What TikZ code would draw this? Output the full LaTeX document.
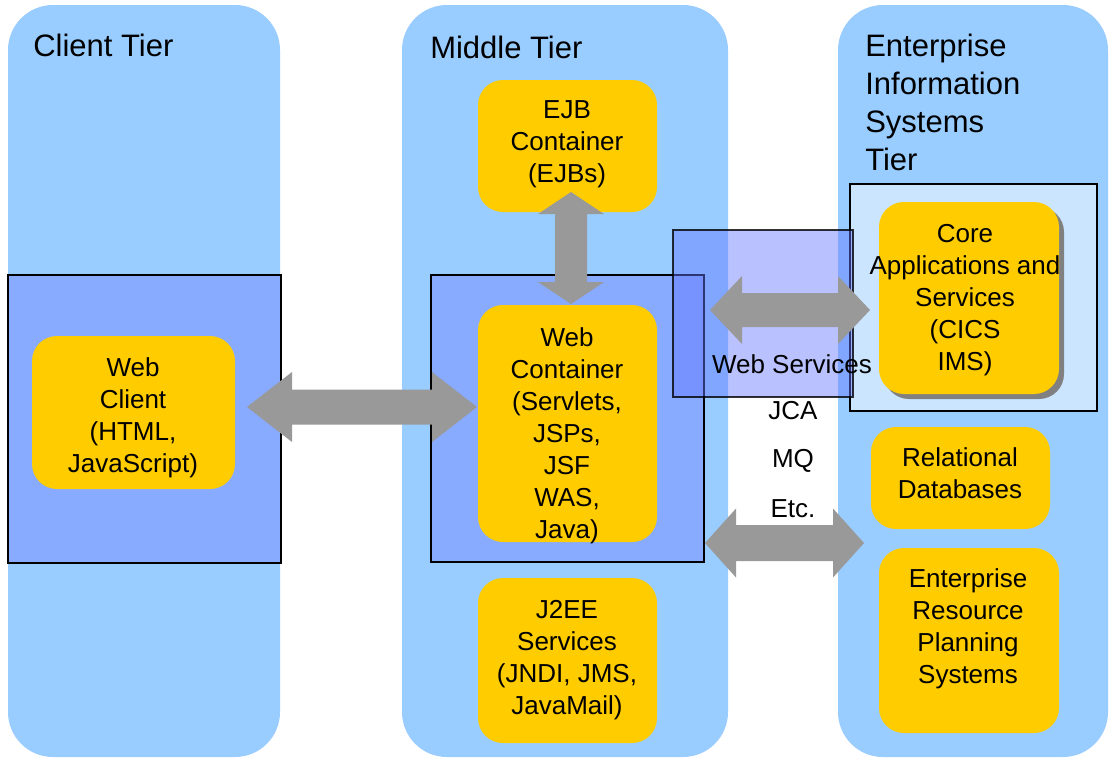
\documentclass[tikz,border=0pt]{standalone}
\usepackage{fontspec}
\setmainfont{Liberation Sans}
\usetikzlibrary{calc,fit}
\definecolor{panelblue}{RGB}{153,204,255}
\definecolor{boxblue}{RGB}{136,170,255}
\definecolor{coreblue}{RGB}{204,229,255}
\definecolor{yel}{RGB}{255,204,0}
\definecolor{arrgray}{RGB}{153,153,153}
\definecolor{wsblue}{RGB}{100,120,255}
\definecolor{shadowgray}{RGB}{128,128,128}
\newcommand\hdarrow[5]{%
  \fill[arrowfill] (#1) -- ($(#1)+(#3,-#4)$) -- ($(#1)+(#3,-#5)$) -- ($(#2)+(-#3,-#5)$) -- ($(#2)+(-#3,-#4)$) -- (#2)
    -- ($(#2)+(-#3,#4)$) -- ($(#2)+(-#3,#5)$) -- ($(#1)+(#3,#5)$) -- ($(#1)+(#3,#4)$) -- cycle;}
\newcommand\vdarrow[5]{%
  \fill[arrowfill] (#1) -- ($(#1)+(#4,#3)$) -- ($(#1)+(#5,#3)$) -- ($(#2)+(#5,-#3)$) -- ($(#2)+(#4,-#3)$) -- (#2)
    -- ($(#2)+(-#4,-#3)$) -- ($(#2)+(-#5,-#3)$) -- ($(#1)+(-#5,#3)$) -- ($(#1)+(-#4,#3)$) -- cycle;}
\tikzset{
  panel/.style={fill=panelblue, draw=none, rounded corners=33.75pt, inner sep=0pt},
  bluebox/.style={fill=boxblue, draw=black, line width=1.5pt, inner sep=0pt},
  corebox/.style={fill=coreblue, draw=black, line width=1.5pt, inner sep=0pt},
  wsbox/.style={fill=wsblue, fill opacity=0.45, draw=black, draw opacity=0.8, line width=1.5pt, inner sep=0pt},
  ybox/.style={fill=yel, draw=none, rounded corners=18.75pt, inner sep=0pt},
  arrowfill/.style={fill=arrgray},
  lbl/.style={font=\fontsize{19.5pt}{24pt}\selectfont, align=center, inner sep=0pt},
  title/.style={font=\fontsize{23.25pt}{28.5pt}\selectfont, align=left, inner sep=0pt, anchor=west},
}
\begin{document}
\begin{tikzpicture}[x=0.75pt,y=-0.75pt]
\useasboundingbox (0,0) rectangle (1109,758);
\fill[white] (0,0) rectangle (1109,758);
% tiers
\node[panel, fit={(8,5)(280,757)}] (clienttier) {};
\node[panel, fit={(402,5)(728,757)}] (middletier) {};
\node[panel, fit={(838,5)(1108,757)}] (eistier) {};
% blue boxes
\node[bluebox, fit={(8,275)(281,563)}] (clientbox) {};
\node[bluebox, fit={(431,275)(704,562)}] (midbox) {};
\node[corebox, fit={(850,184)(1097,411)}] (corebox) {};
% yellow boxes
\node[ybox, fit={(32,336)(235,489)}] (webclient) {};
\node[ybox, fit={(478,80)(657,212)}] (ejb) {};
\node[ybox, fit={(478,305)(657,542)}] (webcont) {};
\node[ybox, fit={(478,578)(657,743)}] (j2ee) {};
\node[ybox, fill=shadowgray, fit={(884,207)(1064,399)}] (coreshadow) {};
\node[ybox, fit={(879,202)(1059,394)}] (core) {};
\node[ybox, fit={(871,427)(1050,529)}] (reldb) {};
\node[ybox, fit={(879,548)(1059,733)}] (erp) {};
% web services box
\node[wsbox, fit={(673,230)(853,397)}] (wsbox) {};
% arrows
\coordinate (a1l) at (247,407); \coordinate (a1r) at (477,407);
\hdarrow{a1l}{a1r}{45}{35}{17.5}
\coordinate (a2t) at (571,192); \coordinate (a2b) at (571,304);
\vdarrow{a2t}{a2b}{22}{33}{16}
\coordinate (a3l) at (710,310); \coordinate (a3r) at (870,310);
\hdarrow{a3l}{a3r}{32}{34}{17}
\coordinate (a4l) at (705,543); \coordinate (a4r) at (864,543);
\hdarrow{a4l}{a4r}{31}{34.5}{18}
% titles
\node[title] (t1) at (33,45) {Client Tier};
\node[title] (t2) at (430,47) {Middle Tier};
\node[title] (t3) at (865,102) {Enterprise\\Information\\Systems\\Tier};
% labels
\node[lbl] (l1) at (133,418) {Web\\Client\\(HTML,\\JavaScript)};
\node[lbl] (l2) at (567,144) {EJB\\Container\\(EJBs)};
\node[lbl] (l3) at (567,436) {Web\\Container\\(Servlets,\\JSPs,\\JSF\\WAS,\\Java)};
\node[lbl] (l4) at (567,660) {J2EE\\Services\\(JNDI, JMS,\\JavaMail)};
\node[lbl] (l5) at (965,300) {Core\\Applications and\\Services\\(CICS\\IMS)};
\node[lbl] (l6) at (960,473) {Relational\\Databases};
\node[lbl] (l7) at (968,629) {Enterprise\\Resource\\Planning\\Systems};
\node[lbl] (ws) at (792,364) {Web Services};
\node[lbl] (jca) at (793,411) {JCA};
\node[lbl] (mq) at (793,461) {MQ};
\node[lbl] (etc) at (793,509) {Etc.};
\end{tikzpicture}
\end{document}
